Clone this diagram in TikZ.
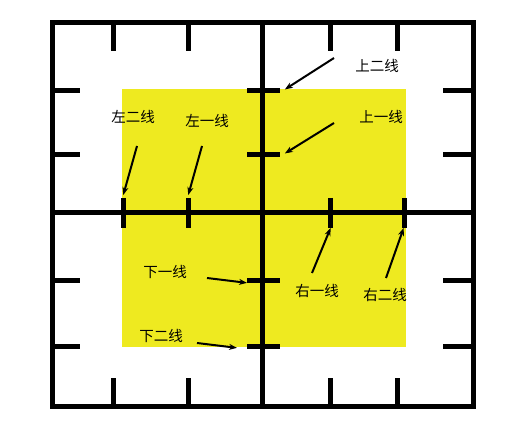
\documentclass[tikz,border=0pt]{standalone}
\usepackage{fontspec}
\newfontfamily\cjk{Noto Sans CJK SC}
\usetikzlibrary{arrows.meta}
\definecolor{fieldyellow}{RGB}{238,234,32}
\tikzset{
  wall/.style={line width=5pt, line cap=butt},
  tick/.style={line width=5pt},
  lbl/.style={font=\cjk\fontsize{14.5}{15}\selectfont, inner sep=0pt},
  pointer/.style={line width=2pt, -{Stealth[length=8pt,width=6pt]}, shorten >=1pt}
}
\begin{document}
\begin{tikzpicture}[x=1pt,y=-1pt]
\useasboundingbox (0,0) rectangle (528,430);
\fill[white] (0,0) rectangle (528,430);
% yellow zone
\fill[fieldyellow] (122,89) rectangle (406,347);
% frame and centre cross
\draw[wall] (52,23) rectangle (473,407);
\draw[wall] (262,23) -- (262,407);
\draw[wall] (52,213) -- (473,213);
% ticks on outer frame
\foreach \x in {113,188,330,397} {
  \draw[tick] (\x,23) -- (\x,51);
  \draw[tick] (\x,407) -- (\x,378);
}
\foreach \y in {91,155,281,347} {
  \draw[tick] (52,\y) -- (80,\y);
  \draw[tick] (473,\y) -- (443,\y);
}
% ticks on centre cross
\foreach \y in {91,155,281,347} {
  \draw[tick] (247,\y) -- (280,\y);
}
\foreach \x in {123,188,330,404} {
  \draw[tick] (\x,198) -- (\x,228);
}
% labels
\node[lbl] (l2) at (133,117) {左二线};
\node[lbl] (l1) at (207,121) {左一线};
\node[lbl] (u2) at (377,66) {上二线};
\node[lbl] (u1) at (381,117) {上一线};
\node[lbl] (d1) at (165,272) {下一线};
\node[lbl] (d2) at (161,336) {下二线};
\node[lbl] (r1) at (317,291) {右一线};
\node[lbl] (r2) at (385,295) {右二线};
% arrow start and end points
\coordinate (l2s) at (137,146); \coordinate (l2e) at (123,196);
\coordinate (l1s) at (202,146); \coordinate (l1e) at (188,196);
\coordinate (u2s) at (334,58);  \coordinate (u2e) at (284,90);
\coordinate (u1s) at (334,123); \coordinate (u1e) at (284,154);
\coordinate (d1s) at (207,278); \coordinate (d1e) at (248,283);
\coordinate (d2s) at (197,343); \coordinate (d2e) at (238,348);
\coordinate (r1s) at (312,273); \coordinate (r1e) at (331,227);
\coordinate (r2s) at (386,278); \coordinate (r2e) at (404,227);
\draw[pointer] (l2s) -- (l2e);
\draw[pointer] (l1s) -- (l1e);
\draw[pointer] (u2s) -- (u2e);
\draw[pointer] (u1s) -- (u1e);
\draw[pointer] (d1s) -- (d1e);
\draw[pointer] (d2s) -- (d2e);
\draw[pointer] (r1s) -- (r1e);
\draw[pointer] (r2s) -- (r2e);
\end{tikzpicture}
\end{document}
